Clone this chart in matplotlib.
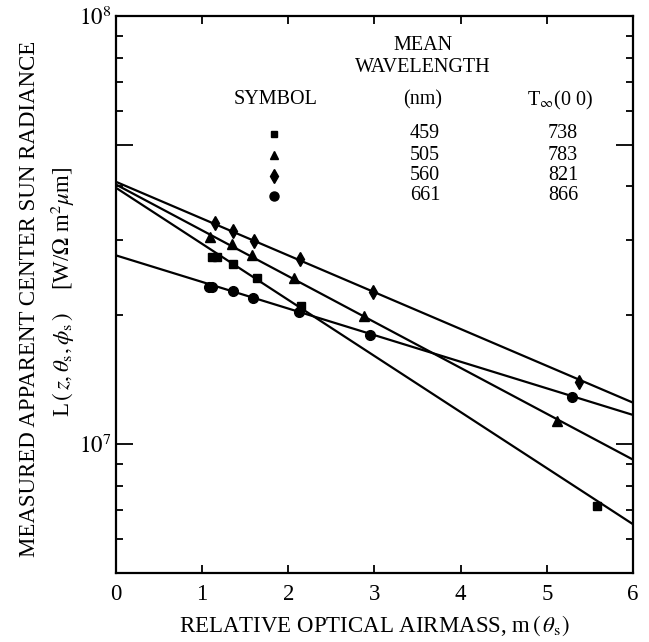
import numpy as np
import matplotlib
matplotlib.use("Agg")
import matplotlib.pyplot as plt
from matplotlib.ticker import FixedLocator, FuncFormatter, NullFormatter

plt.rcParams['font.family'] = ['Liberation Serif', 'DejaVu Serif']
plt.rcParams['mathtext.fontset'] = 'stix'

# legend table values
wavelengths = ['459', '505', '560', '661']
t_inf = ['738', '783', '821', '866']
markers = ['s', '^', 'd', 'o']
msizes = [5.5, 6.5, 7.5, 7]

# measured points (airmass, radiance)
m_459 = [1.11, 1.17, 1.36, 1.64, 2.15, 5.58]
L_459 = [2.74e7, 2.74e7, 2.64e7, 2.44e7, 2.10e7, 7.17e6]
m_505 = [1.09, 1.35, 1.58, 2.07, 2.88, 5.12]
L_505 = [3.04e7, 2.94e7, 2.76e7, 2.45e7, 1.99e7, 1.13e7]
m_560 = [1.15, 1.36, 1.60, 2.13, 2.98, 5.37]
L_560 = [3.29e7, 3.15e7, 2.99e7, 2.70e7, 2.27e7, 1.40e7]
m_661 = [1.08, 1.12, 1.36, 1.59, 2.12, 2.95, 5.29]
L_661 = [2.33e7, 2.33e7, 2.28e7, 2.20e7, 2.03e7, 1.80e7, 1.29e7]

# fitted lines: value at m=0 and m=6
fit_m = [0, 6]
fit_459 = [3.97e7, 6.5e6]
fit_505 = [4.04e7, 9.2e6]
fit_560 = [4.1e7, 1.25e7]
fit_661 = [2.76e7, 1.17e7]

series = [(m_459, L_459, fit_459), (m_505, L_505, fit_505),
          (m_560, L_560, fit_560), (m_661, L_661, fit_661)]

fig = plt.figure(figsize=(6.49, 6.42), dpi=100)
ax = fig.add_axes([0.1787, 0.1075, 0.7966, 0.8675])

for (mx, ly, fit), mk, ms in zip(series, markers, msizes):
    ax.plot(fit_m, fit, color='black', linewidth=1.6)
    ax.plot(mx, ly, linestyle='none', marker=mk, markersize=ms, color='black')

ax.set_yscale('log')
ax.set_xlim(0, 6)
ax.set_ylim(5e6, 1e8)

ax.xaxis.set_major_locator(FixedLocator([0, 1, 2, 3, 4, 5, 6]))
ax.yaxis.set_major_locator(FixedLocator([5e6, 1e7, 5e7, 1e8]))
ax.yaxis.set_minor_locator(FixedLocator([6e6, 7e6, 8e6, 9e6, 2e7, 3e7, 4e7,
                                         6e7, 7e7, 8e7, 9e7]))
ax.yaxis.set_minor_formatter(NullFormatter())

def ylab(v, pos):
    e = int(round(np.log10(v)))
    if abs(v - 10 ** e) < 1:
        return r'$10^{%d}$' % e
    return ''

ax.yaxis.set_major_formatter(FuncFormatter(ylab))

ax.tick_params(which='both', direction='in', top=True, right=True, width=1.3)
ax.tick_params(axis='x', length=6, labelsize=16.5, pad=8)
ax.tick_params(axis='y', which='major', length=12, labelsize=16.5, pad=3)
ax.tick_params(axis='y', which='minor', length=5)
for s in ax.spines.values():
    s.set_linewidth(1.6)

ax.set_xlabel(r'RELATIVE OPTICAL AIRMASS, m$\,(\,\theta_{\rm s})$', fontsize=16.5, labelpad=6)

fig.text(0.046, 0.535, 'MEASURED APPARENT CENTER SUN RADIANCE',
         rotation=90, ha='center', va='center', fontsize=16.5)
fig.text(0.097, 0.545,
         r'L$\,(\,z, \theta_{\rm s}, \phi_{\rm s}\,)$    [W/$\Omega$ m$^2$$\mu$m]',
         rotation=90, ha='center', va='center', fontsize=16.5)

# legend table inside the plot
def fx(px):
    return px / 649.0

def fy(py):
    return 1 - py / 642.0

fs = 14.5
fig.text(fx(423), fy(45), 'MEAN', ha='center', va='center', fontsize=fs)
fig.text(fx(423), fy(67), 'WAVELENGTH', ha='center', va='center', fontsize=fs)
fig.text(fx(276), fy(100), 'SYMBOL', ha='center', va='center', fontsize=fs)
fig.text(fx(423), fy(100), '(nm)', ha='center', va='center', fontsize=fs)
fig.text(fx(560), fy(100), r'T$_{\infty}$(0 0)', ha='center', va='center', fontsize=fs)

rows_y = [134, 155, 176, 196]
for wl, ti, mk, ms, ry in zip(wavelengths, t_inf, markers, msizes, rows_y):
    fig.text(fx(425), fy(ry), wl, ha='center', va='center', fontsize=fs)
    fig.text(fx(563), fy(ry), ti, ha='center', va='center', fontsize=fs)
    fig.add_artist(plt.Line2D([fx(274)], [fy(ry)], marker=mk, markersize=ms - 0.5,
                              color='black', linestyle='none',
                              transform=fig.transFigure))

fig.savefig('out.png', dpi=100)
